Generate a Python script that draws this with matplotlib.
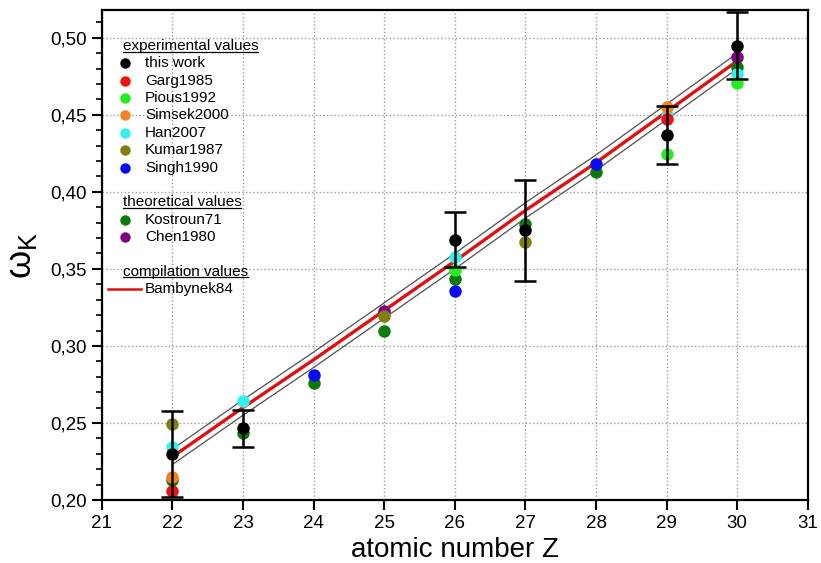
import numpy as np
import matplotlib.pyplot as plt
from matplotlib.ticker import MultipleLocator, FuncFormatter

plt.rcParams['font.family'] = ['Liberation Sans', 'DejaVu Sans']
plt.rcParams['mathtext.fontset'] = 'custom'
plt.rcParams['mathtext.rm'] = 'Liberation Sans'
plt.rcParams['mathtext.it'] = 'Liberation Sans:italic'

# this work (with error bars)
z_work = [22, 23, 26, 27, 29, 30]
w_work = [0.230, 0.2465, 0.369, 0.375, 0.437, 0.495]
err_work = [0.028, 0.012, 0.018, 0.033, 0.019, 0.022]

# other experimental values
z_garg = [22, 29]
w_garg = [0.2058, 0.4474]
z_pious = [26, 29, 30]
w_pious = [0.349, 0.4245, 0.4706]
z_simsek = [22, 29]
w_simsek = [0.215, 0.455]
z_han = [22, 23, 26, 29, 30]
w_han = [0.2346, 0.2645, 0.358, 0.450, 0.4767]
z_kumar = [22, 25, 27]
w_kumar = [0.2494, 0.3195, 0.3677]
z_singh = [24, 26, 28]
w_singh = [0.2811, 0.3359, 0.4182]

# theoretical values
z_kostroun = [22, 23, 24, 25, 26, 27, 28, 30]
w_kostroun = [0.213, 0.2433, 0.2758, 0.310, 0.3435, 0.379, 0.4132, 0.4814]
z_chen = [25, 30]
w_chen = [0.3229, 0.4875]

# compilation values (Bambynek84) with uncertainty band
z_bamb = [22, 23, 24, 25, 26, 27, 28, 29, 30]
w_bamb = [0.228, 0.260, 0.291, 0.323, 0.355, 0.388, 0.419, 0.452, 0.485]
w_bamb_hi = [0.233, 0.265, 0.296, 0.328, 0.360, 0.393, 0.424, 0.457, 0.490]
w_bamb_lo = [0.223, 0.255, 0.286, 0.318, 0.350, 0.383, 0.414, 0.447, 0.480]

exp_series = [
    ("this work", "black", z_work, w_work),
    ("Garg1985", "#ee1111", z_garg, w_garg),
    ("Pious1992", "#22ee22", z_pious, w_pious),
    ("Simsek2000", "#f58220", z_simsek, w_simsek),
    ("Han2007", "#33f0f0", z_han, w_han),
    ("Kumar1987", "#808010", z_kumar, w_kumar),
    ("Singh1990", "#0a0af0", z_singh, w_singh),
]
theo_series = [
    ("Kostroun71", "#0a7a0a", z_kostroun, w_kostroun),
    ("Chen1980", "#800080", z_chen, w_chen),
]

fig = plt.figure(figsize=(8.21, 5.63), dpi=100)
ax = fig.add_axes([0.124, 0.112, 0.86, 0.87])

ax.plot(z_bamb, w_bamb_hi, color='#505050', lw=0.9, zorder=2)
ax.plot(z_bamb, w_bamb_lo, color='#505050', lw=0.9, zorder=2)
ax.plot(z_bamb, w_bamb, color='#e01010', lw=2.4, zorder=2)

ms = 9
for name, col, zz, ww in theo_series:
    ax.plot(zz, ww, 'o', color=col, ms=ms, mec='none', zorder=3)
for name, col, zz, ww in exp_series[:0:-1]:
    ax.plot(zz, ww, 'o', color=col, ms=ms, mec='none', zorder=4)
ax.errorbar(z_work, w_work, yerr=err_work, fmt='o', color='black', ms=ms,
            mec='none', elinewidth=1.8, capsize=8, capthick=1.8, zorder=5)

ax.set_xlim(21, 31)
ax.set_ylim(0.20, 0.518)
ax.xaxis.set_major_locator(MultipleLocator(1))
ax.yaxis.set_major_locator(MultipleLocator(0.05))
ax.yaxis.set_minor_locator(MultipleLocator(0.01))
ax.yaxis.set_major_formatter(FuncFormatter(lambda v, p: f"{v:.2f}".replace('.', ',')))
ax.grid(True, which='major', linestyle=':', color='#999999', lw=1.0)
ax.set_axisbelow(True)
ax.tick_params(axis='both', which='major', direction='out', length=7, width=1.5,
               labelsize=13.5, color='black')
ax.tick_params(axis='y', which='minor', direction='out', length=4, width=1.2)
for s in ax.spines.values():
    s.set_linewidth(1.6)

ax.set_xlabel("atomic number Z", fontsize=20, labelpad=4)
ax.set_ylabel("ω$_{\\mathrm{K}}$", fontsize=26, labelpad=8)

# legend, drawn by hand so the group headings can be underlined
x_mark = 0.0326
x_text = 0.061
y0 = 0.9265
dy = 0.0354
fs = 11


def heading(row, txt):
    t = ax.text(x_mark - 0.003, y0 - row * dy, txt, transform=ax.transAxes,
                fontsize=fs, va='center', ha='left')
    fig.canvas.draw()
    bb = t.get_window_extent().transformed(ax.transAxes.inverted())
    ax.plot([bb.x0, bb.x1], [bb.y0 + 0.003, bb.y0 + 0.003], color='black', lw=0.9,
            transform=ax.transAxes, clip_on=False)


heading(0, "experimental values")
for i, (name, col, zz, ww) in enumerate(exp_series):
    y = y0 - (i + 1) * dy
    ax.plot([x_mark], [y], 'o', color=col, ms=7.5, mec='none', transform=ax.transAxes)
    ax.text(x_text, y, name, transform=ax.transAxes, fontsize=fs, va='center')

heading(9, "theoretical values")
for i, (name, col, zz, ww) in enumerate(theo_series):
    y = y0 - (i + 10) * dy
    ax.plot([x_mark], [y], 'o', color=col, ms=7.5, mec='none', transform=ax.transAxes)
    ax.text(x_text, y, name, transform=ax.transAxes, fontsize=fs, va='center')

heading(13, "compilation values")
y = y0 - 14 * dy
ax.plot([0.0085, 0.055], [y, y], color='#e01010', lw=1.8, transform=ax.transAxes)
ax.text(x_text, y, "Bambynek84", transform=ax.transAxes, fontsize=fs, va='center')

fig.savefig("out.png", dpi=100)
